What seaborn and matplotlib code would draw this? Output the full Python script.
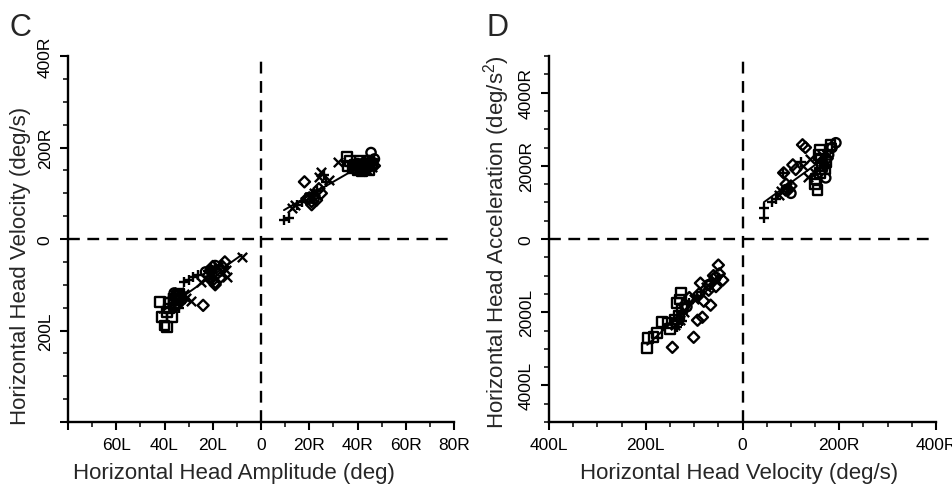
import numpy as np
import pandas as pd
import matplotlib
matplotlib.use("Agg")
import matplotlib.pyplot as plt
from matplotlib.ticker import MultipleLocator, FixedLocator
import seaborn as sns

# ---------------- Panel C: amplitude (deg) vs velocity (deg/s) ----------------
c_sq_x = [-42, -41, -40, -39, -38, -37, -36, -35, -38, -34, -39, -36,
          35.5, 36, 38, 40, 42, 44, 46, 41, 43, 39, 45, 37]
c_sq_y = [-138, -171, -189, -193, -152, -171, -130, -125, -140, -120, -160, -145,
          180, 160, 155, 150, 148, 160, 165, 170, 155, 162, 150, 170]
c_dm_x = [-24, -21, -20, -19, -18, -16, -15, -22, -20, -17, -33, -35, -19, -21,
          18, 21, 20, 22, 24, 23, 19, 25, 42, 45, 47, 40, 21, 43]
c_dm_y = [-145, -70, -90, -100, -75, -60, -50, -80, -60, -85, -135, -125, -95, -88,
          125, 75, 90, 95, 110, 85, 88, 100, 165, 170, 160, 158, 82, 150]
c_x_x = [-8, -14.5, -14, -31, -33, -29, -35, -37, -25, -18, -34, -32,
         32, 25, 24, 14, 13, 28, 22, 20, 44, 40, 38, 46]
c_x_y = [-40, -68, -83, -130, -125, -135, -140, -135, -95, -62, -115, -120,
         169, 147, 136, 75, 68, 130, 100, 92, 150, 155, 160, 158]
c_pl_x = [-32, -30, -28, -26, -22, -19, -20, -36, -34, -38, -33,
          9.5, 11.6, 15, 17, 26, 27, 21, 23, 46, 43, 41]
c_pl_y = [-94, -90, -84, -78, -70, -65, -88, -145, -150, -130, -140,
          42, 46, 75, 80, 140, 125, 98, 105, 165, 162, 150]
c_ci_x = [-21, -23, -19, -34, -36, -17, 45.6, 47, 46, 44, 42, 20, 22, 40]
c_ci_y = [-68, -72, -58, -128, -118, -70, 189, 175, 168, 172, 152, 90, 88, 165]

# ---------------- Panel D: velocity (deg/s) vs acceleration (deg/s^2) ----------------
d_sq_x = [-197, -195, -184, -176, -166, -155, -150, -135, -128, -130, -125, -140, -132,
          150, 152, 155, 158, 160, 162, 165, 170, 172, 182, 160]
d_sq_y = [-2986, -2712, -2685, -2575, -2274, -2300, -2450, -1753, -1479, -1650, -1900, -2200, -2100,
          1500, 1650, 1342, 2300, 2438, 2200, 2000, 1900, 2100, 2575, 1800]
d_dm_x = [-145, -101, -93, -83, -87, -50, -41, -66, -60, -55, -70, -90, -80, -110, -120, -140, -65, -48,
          124, 130, 85, 104, 90, 95, 100, 110, 175, 170]
d_dm_y = [-2959, -2685, -2219, -2137, -1205, -712, -1123, -1808, -1000, -1300, -1400, -1500, -1700, -1600, -1800, -2300, -1200, -950,
          2575, 2500, 1808, 2027, 1500, 1350, 1450, 1900, 2200, 2000]
d_x_x = [-130, -120, -100, -75, -140, -60, 140, 150, 125, 80, 75, 165, 135]
d_x_y = [-2200, -2000, -1650, -1300, -2350, -1100, 2200, 1800, 2000, 1300, 1200, 2300, 1700]
d_pl_x = [-135, -125, -95, -85, -65, -110, 44, 44, 83, 120, 185, 70, 60, 95, 175]
d_pl_y = [-2400, -2250, -1550, -1450, -1150, -1750, 575, 849, 1808, 2100, 2600, 1100, 1000, 1400, 2400]
d_ci_x = [-115, -70, -55, 193, 172, 185, 178, 90, 100]
d_ci_y = [-1850, -1250, -1050, 2630, 1671, 2500, 2300, 1350, 1250]

c_xticks = [-80, -60, -40, -20, 0, 20, 40, 60, 80]
c_xlabels = ["", "60L", "40L", "20L", "0", "20R", "40R", "60R", "80R"]
c_yticks = [-400, -200, 0, 200, 400]
c_ylabels = ["", "200L", "0", "200R", "400R"]
d_xticks = [-400, -200, 0, 200, 400]
d_xlabels = ["400L", "200L", "0", "200R", "400R"]
d_yticks = [-4000, -2000, 0, 2000, 4000]
d_ylabels = ["4000L", "2000L", "0", "2000R", "4000R"]

sns.set_style("ticks")
plt.rcParams["font.family"] = ["Liberation Sans", "DejaVu Sans"]
plt.rcParams["mathtext.fontset"] = "custom"
plt.rcParams["mathtext.rm"] = "Liberation Sans"
plt.rcParams["mathtext.it"] = "Liberation Sans"

fig = plt.figure(figsize=(9.53, 4.85), dpi=100)
axC = fig.add_axes([0.0714, 0.1278, 0.405, 0.7546])
axD = fig.add_axes([0.5761, 0.1278, 0.4061, 0.7546])


def draw_panel(ax, series, xlim, ylim, xt, xl, yt, yl, xminor, yminor,
               xlabel, ylabel, xlab_pos, ylab_pos):
    for xs, ys, mk, size, filled in series:
        if filled:
            sns.scatterplot(x=xs, y=ys, marker=mk, s=size, facecolors="none",
                            edgecolors="black", linewidth=1.7, ax=ax, zorder=3)
        else:
            sns.scatterplot(x=xs, y=ys, marker=mk, s=size, color="black",
                            linewidth=1.7, ax=ax, zorder=3)
    allx = np.concatenate([np.asarray(s[0], float) for s in series])
    ally = np.concatenate([np.asarray(s[1], float) for s in series])
    for mask in (allx > 0, allx < 0):
        sns.regplot(x=allx[mask], y=ally[mask], scatter=False, ci=None, truncate=True,
                    color="black", line_kws=dict(lw=1.4, zorder=4), ax=ax)
    ax.axhline(0, color="black", lw=1.7, ls=(0, (5, 3.2)), zorder=2)
    ax.axvline(0, color="black", lw=1.7, ls=(0, (5, 3.2)), zorder=2)
    ax.set_xlim(*xlim)
    ax.set_ylim(*ylim)
    ax.xaxis.set_major_locator(FixedLocator(xt))
    ax.set_xticklabels(xl)
    ax.yaxis.set_major_locator(FixedLocator(yt))
    ax.set_yticklabels(yl, rotation=90, va="center")
    ax.xaxis.set_minor_locator(MultipleLocator(xminor))
    ax.yaxis.set_minor_locator(MultipleLocator(yminor))
    ax.tick_params(axis="both", which="major", direction="out", length=6, width=1.5,
                   labelsize=12.5, colors="black")
    ax.tick_params(axis="both", which="minor", direction="out", length=3.5, width=1.3)
    ax.tick_params(axis="x", which="major", pad=5)
    ax.tick_params(axis="y", which="major", pad=5)
    sns.despine(ax=ax)
    for sp in ("left", "bottom"):
        ax.spines[sp].set_linewidth(1.7)
        ax.spines[sp].set_color("black")
    ax.set_xlabel(xlabel, fontsize=16)
    ax.set_ylabel(ylabel, fontsize=16)
    ax.xaxis.set_label_coords(xlab_pos[0], xlab_pos[1])
    ax.yaxis.set_label_coords(ylab_pos[0], ylab_pos[1])


draw_panel(axC,
           [(c_sq_x, c_sq_y, "s", 50, True), (c_dm_x, c_dm_y, "D", 32, True),
            (c_x_x, c_x_y, "x", 45, False), (c_pl_x, c_pl_y, "+", 55, False),
            (c_ci_x, c_ci_y, "o", 45, True)],
           (-80, 80), (-400, 400), c_xticks, c_xlabels, c_yticks, c_ylabels, 10, 50,
           "Horizontal Head Amplitude (deg)", "Horizontal Head Velocity (deg/s)",
           (0.43, -0.11), (-0.095, 0.43))
draw_panel(axD,
           [(d_sq_x, d_sq_y, "s", 50, True), (d_dm_x, d_dm_y, "D", 32, True),
            (d_x_x, d_x_y, "x", 45, False), (d_pl_x, d_pl_y, "+", 55, False),
            (d_ci_x, d_ci_y, "o", 45, True)],
           (-400, 400), (-5000, 5000), d_xticks, d_xlabels, d_yticks, d_ylabels, 50, 500,
           "Horizontal Head Velocity (deg/s)", "Horizontal Head Acceleration (deg/s$^2$)",
           (0.49, -0.11), (-0.095, 0.495))

fig.text(0.010, 0.925, "C", fontsize=22, ha="left", va="baseline")
fig.text(0.511, 0.925, "D", fontsize=22, ha="left", va="baseline")

fig.savefig("out.png", dpi=100)
